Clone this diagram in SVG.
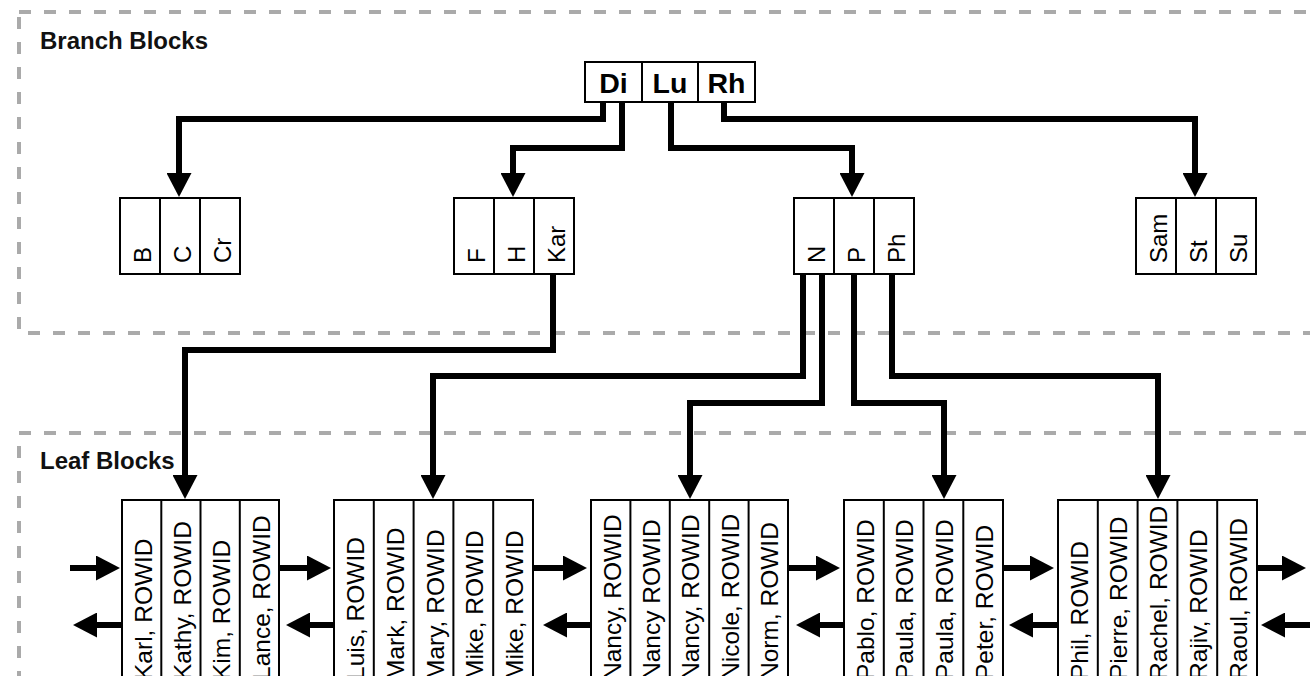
<svg xmlns="http://www.w3.org/2000/svg" width="1310" height="676" viewBox="0 0 1310 676">
<style>
.frame{fill:none;stroke:#aaaaaa;stroke-width:4;stroke-dasharray:12 13}
.lbl{font-family:"Liberation Sans",Arial,Helvetica,sans-serif;font-weight:bold;font-size:24px;fill:#111}
.root{font-family:"Liberation Sans",Arial,Helvetica,sans-serif;font-weight:bold;font-size:28.5px;fill:#000;text-anchor:middle}
.cell{fill:#fff;stroke:#000;stroke-width:2}
.div{stroke:#000;stroke-width:2}
.vt{font-family:"Liberation Sans",Arial,Helvetica,sans-serif;font-size:24px;fill:#000}
.lt{font-family:"Liberation Sans",Arial,Helvetica,sans-serif;font-size:24.5px;fill:#000}
.con{fill:none;stroke:#000;stroke-width:6;stroke-linejoin:miter}
</style>
<defs>
<marker id="ah" viewBox="0 0 24 25" markerWidth="24" markerHeight="25" refX="1" refY="12.5" orient="auto" markerUnits="userSpaceOnUse">
<path d="M0,0 L24,12.5 L0,25 Z" fill="#000"/>
</marker>
</defs>
<rect width="1310" height="676" fill="#fff"/>

<g id="frames">
<rect class="frame" x="19" y="12" width="1400" height="321"/>
<rect class="frame" x="19" y="433" width="1400" height="400"/>
<text class="lbl" x="40" y="49">Branch Blocks</text>
<text class="lbl" x="40" y="469">Leaf Blocks</text>
</g>

<g id="connectors">
<path class="con" d="M603,102 V119 H179 V174" marker-end="url(#ah)"/>
<path class="con" d="M622,102 V148 H513 V174" marker-end="url(#ah)"/>
<path class="con" d="M671,102 V148 H852 V174" marker-end="url(#ah)"/>
<path class="con" d="M724,102 V119 H1195 V174" marker-end="url(#ah)"/>
<path class="con" d="M553,275 V350 H185 V476" marker-end="url(#ah)"/>
<path class="con" d="M803,275 V376 H433 V476" marker-end="url(#ah)"/>
<path class="con" d="M822,275 V403 H690 V476" marker-end="url(#ah)"/>
<path class="con" d="M854,275 V403 H944 V476" marker-end="url(#ah)"/>
<path class="con" d="M892,275 V376 H1158 V476" marker-end="url(#ah)"/>
<path class="con" d="M70,568 H97" marker-end="url(#ah)"/>
<path class="con" d="M122,625 H96" marker-end="url(#ah)"/>
<path class="con" d="M279,568 H308" marker-end="url(#ah)"/>
<path class="con" d="M334,625 H309" marker-end="url(#ah)"/>
<path class="con" d="M533,568 H564" marker-end="url(#ah)"/>
<path class="con" d="M591,625 H566" marker-end="url(#ah)"/>
<path class="con" d="M788,568 H817" marker-end="url(#ah)"/>
<path class="con" d="M844,625 H819" marker-end="url(#ah)"/>
<path class="con" d="M1003,568 H1031" marker-end="url(#ah)"/>
<path class="con" d="M1058,625 H1032" marker-end="url(#ah)"/>
<path class="con" d="M1257,568 H1283" marker-end="url(#ah)"/>
<path class="con" d="M1312,625 H1284" marker-end="url(#ah)"/>
</g>

<g id="root">
<rect class="cell" x="585" y="62" width="170" height="40"/>
<line class="div" x1="642" y1="62" x2="642" y2="102"/>
<line class="div" x1="698" y1="62" x2="698" y2="102"/>
<text class="root" x="613.5" y="93">Di</text>
<text class="root" x="670" y="93">Lu</text>
<text class="root" x="726.5" y="93">Rh</text>
</g>

<g id="branch-b">
<rect class="cell" x="120" y="198" width="120" height="76"/>
<line class="div" x1="160" y1="198" x2="160" y2="274"/>
<line class="div" x1="200" y1="198" x2="200" y2="274"/>
<text class="vt" transform="translate(150.5,263) rotate(-90)">B</text>
<text class="vt" transform="translate(190.5,263) rotate(-90)">C</text>
<text class="vt" transform="translate(230.5,263) rotate(-90)">Cr</text>
</g>

<g id="branch-f">
<rect class="cell" x="454" y="198" width="120" height="76"/>
<line class="div" x1="494" y1="198" x2="494" y2="274"/>
<line class="div" x1="534" y1="198" x2="534" y2="274"/>
<text class="vt" transform="translate(484.5,263) rotate(-90)">F</text>
<text class="vt" transform="translate(524.5,263) rotate(-90)">H</text>
<text class="vt" transform="translate(564.5,263) rotate(-90)">Kar</text>
</g>

<g id="branch-n">
<rect class="cell" x="794" y="198" width="120" height="76"/>
<line class="div" x1="834" y1="198" x2="834" y2="274"/>
<line class="div" x1="874" y1="198" x2="874" y2="274"/>
<text class="vt" transform="translate(824.5,263) rotate(-90)">N</text>
<text class="vt" transform="translate(864.5,263) rotate(-90)">P</text>
<text class="vt" transform="translate(904.5,263) rotate(-90)">Ph</text>
</g>

<g id="branch-s">
<rect class="cell" x="1136" y="198" width="120" height="76"/>
<line class="div" x1="1176" y1="198" x2="1176" y2="274"/>
<line class="div" x1="1216" y1="198" x2="1216" y2="274"/>
<text class="vt" transform="translate(1166.5,263) rotate(-90)">Sam</text>
<text class="vt" transform="translate(1206.5,263) rotate(-90)">St</text>
<text class="vt" transform="translate(1246.5,263) rotate(-90)">Su</text>
</g>

<g id="leaf-1">
<rect class="cell" x="122" y="500" width="157" height="220"/>
<line class="div" x1="161.3" y1="500" x2="161.3" y2="720"/>
<line class="div" x1="200.5" y1="500" x2="200.5" y2="720"/>
<line class="div" x1="239.8" y1="500" x2="239.8" y2="720"/>
<text class="lt" transform="translate(152,680) rotate(-90)">Karl, ROWID</text>
<text class="lt" transform="translate(191,680) rotate(-90)">Kathy, ROWID</text>
<text class="lt" transform="translate(230.3,680) rotate(-90)">Kim, ROWID</text>
<text class="lt" transform="translate(269.5,680) rotate(-90)">Lance, ROWID</text>
</g>

<g id="leaf-2">
<rect class="cell" x="334" y="500" width="199" height="220"/>
<line class="div" x1="373.8" y1="500" x2="373.8" y2="720"/>
<line class="div" x1="413.6" y1="500" x2="413.6" y2="720"/>
<line class="div" x1="453.4" y1="500" x2="453.4" y2="720"/>
<line class="div" x1="493.2" y1="500" x2="493.2" y2="720"/>
<text class="lt" transform="translate(364,680) rotate(-90)">Luis, ROWID</text>
<text class="lt" transform="translate(403.8,680) rotate(-90)">Mark, ROWID</text>
<text class="lt" transform="translate(443.6,680) rotate(-90)">Mary, ROWID</text>
<text class="lt" transform="translate(483.4,680) rotate(-90)">Mike, ROWID</text>
<text class="lt" transform="translate(523.2,680) rotate(-90)">Mike, ROWID</text>
</g>

<g id="leaf-3">
<rect class="cell" x="591" y="500" width="197" height="220"/>
<line class="div" x1="630.4" y1="500" x2="630.4" y2="720"/>
<line class="div" x1="669.8" y1="500" x2="669.8" y2="720"/>
<line class="div" x1="709.2" y1="500" x2="709.2" y2="720"/>
<line class="div" x1="748.6" y1="500" x2="748.6" y2="720"/>
<text class="lt" transform="translate(620.5,680) rotate(-90)">Nancy, ROWID</text>
<text class="lt" transform="translate(659.9,680) rotate(-90)">Nancy ROWID</text>
<text class="lt" transform="translate(699.3,680) rotate(-90)">Nancy, ROWID</text>
<text class="lt" transform="translate(738.7,680) rotate(-90)">Nicole, ROWID</text>
<text class="lt" transform="translate(778.1,680) rotate(-90)">Norm, ROWID</text>
</g>

<g id="leaf-4">
<rect class="cell" x="844" y="500" width="159" height="220"/>
<line class="div" x1="883.8" y1="500" x2="883.8" y2="720"/>
<line class="div" x1="923.5" y1="500" x2="923.5" y2="720"/>
<line class="div" x1="963.3" y1="500" x2="963.3" y2="720"/>
<text class="lt" transform="translate(873.5,680) rotate(-90)">Pablo, ROWID</text>
<text class="lt" transform="translate(913.3,680) rotate(-90)">Paula, ROWID</text>
<text class="lt" transform="translate(953,680) rotate(-90)">Paula, ROWID</text>
<text class="lt" transform="translate(992.8,680) rotate(-90)">Peter, ROWID</text>
</g>

<g id="leaf-5">
<rect class="cell" x="1058" y="500" width="199" height="220"/>
<line class="div" x1="1097.8" y1="500" x2="1097.8" y2="720"/>
<line class="div" x1="1137.6" y1="500" x2="1137.6" y2="720"/>
<line class="div" x1="1177.4" y1="500" x2="1177.4" y2="720"/>
<line class="div" x1="1217.2" y1="500" x2="1217.2" y2="720"/>
<text class="lt" transform="translate(1087.5,680) rotate(-90)">Phil, ROWID</text>
<text class="lt" transform="translate(1127.3,680) rotate(-90)">Pierre, ROWID</text>
<text class="lt" transform="translate(1167.1,680) rotate(-90)">Rachel, ROWID</text>
<text class="lt" transform="translate(1206.9,680) rotate(-90)">Rajiv, ROWID</text>
<text class="lt" transform="translate(1246.7,680) rotate(-90)">Raoul, ROWID</text>
</g>
</svg>
